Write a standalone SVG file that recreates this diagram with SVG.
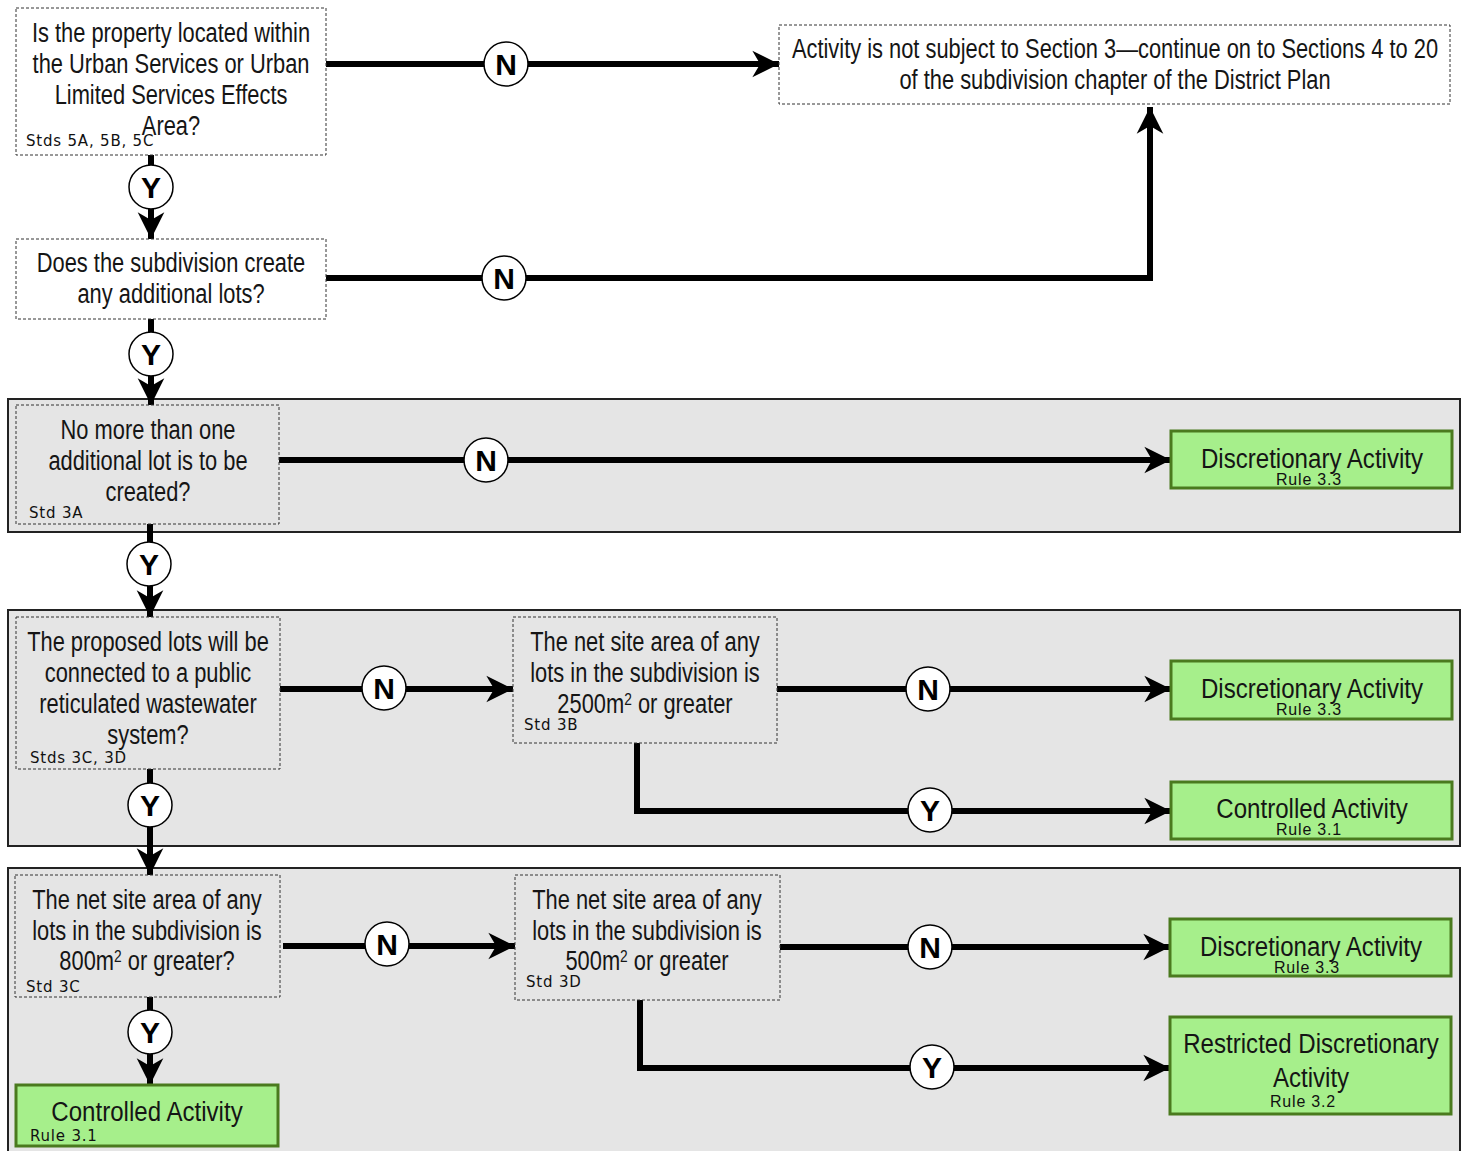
<svg xmlns="http://www.w3.org/2000/svg" width="1469" height="1151" viewBox="0 0 1469 1151">
<style>
.band{fill:#e5e5e5;stroke:#222;stroke-width:2}
.q{fill:#fff;stroke:#333;stroke-width:1;stroke-dasharray:3 2}
.qg{fill:#e5e5e5;stroke:#333;stroke-width:1;stroke-dasharray:3 2}
.res{fill:#a6ef8b;stroke:#4a7a1e;stroke-width:3}
.t{font-family:'Liberation Sans',Arial,sans-serif;font-size:27px;fill:#151515;text-anchor:middle}
.tr{font-family:'Liberation Sans',Arial,sans-serif;font-size:28px;fill:#151515;text-anchor:middle}
.s{font-family:'DejaVu Sans',sans-serif;font-size:15px;letter-spacing:0.8px;fill:#111}
.r{font-family:'Liberation Sans',Arial,sans-serif;font-size:16px;letter-spacing:0.8px;fill:#111;text-anchor:middle}
.c line,.c path{stroke:#000;stroke-width:6;fill:none}
.lab circle{fill:#fff;stroke:#000;stroke-width:1.5}
.lab text{font-family:'Liberation Sans',Arial,sans-serif;font-weight:bold;font-size:30px;fill:#000;text-anchor:middle}
</style>
<defs>
<marker id="ah" markerUnits="userSpaceOnUse" markerWidth="30" markerHeight="30" viewBox="-25 -13 27 26" refX="0" refY="0" orient="auto">
<path d="M0,0 L-24,-12 L-17,0 L-24,12 Z" fill="#000"/>
</marker>
</defs>
<rect width="1469" height="1151" fill="#fff"/>
<g id="bands">
<rect class="band" x="8" y="399" width="1452" height="133"/>
<rect class="band" x="8" y="610" width="1452" height="236"/>
<rect class="band" x="8" y="868" width="1452" height="290"/>
</g>
<g id="connectors" class="c">
<line x1="326" y1="64" x2="779" y2="64" marker-end="url(#ah)"/>
<line x1="151" y1="155" x2="151" y2="239" marker-end="url(#ah)"/>
<path d="M326,278 H1150 V107" marker-end="url(#ah)"/>
<line x1="151" y1="319" x2="151" y2="405" marker-end="url(#ah)"/>
<line x1="279" y1="460" x2="1171" y2="460" marker-end="url(#ah)"/>
<line x1="150" y1="524" x2="150" y2="617" marker-end="url(#ah)"/>
<line x1="280" y1="689" x2="513" y2="689" marker-end="url(#ah)"/>
<line x1="777" y1="689" x2="1171" y2="689" marker-end="url(#ah)"/>
<path d="M637,743 V811 H1171" marker-end="url(#ah)"/>
<line x1="150" y1="769" x2="150" y2="875" marker-end="url(#ah)"/>
<line x1="283" y1="946" x2="515" y2="946" marker-end="url(#ah)"/>
<line x1="780" y1="947" x2="1170" y2="947" marker-end="url(#ah)"/>
<path d="M640,1000 V1068 H1170" marker-end="url(#ah)"/>
<line x1="150" y1="997" x2="150" y2="1085" marker-end="url(#ah)"/>
</g>
<g id="labels" class="lab">
<g><circle cx="506" cy="64" r="22"/><text x="506" y="75">N</text></g>
<g><circle cx="151" cy="187" r="22"/><text x="151" y="198">Y</text></g>
<g><circle cx="504" cy="278" r="22"/><text x="504" y="289">N</text></g>
<g><circle cx="151" cy="354" r="22"/><text x="151" y="365">Y</text></g>
<g><circle cx="486" cy="460" r="22"/><text x="486" y="471">N</text></g>
<g><circle cx="149" cy="564" r="22"/><text x="149" y="575">Y</text></g>
<g><circle cx="384" cy="688" r="22"/><text x="384" y="699">N</text></g>
<g><circle cx="928" cy="689" r="22"/><text x="928" y="700">N</text></g>
<g><circle cx="930" cy="810" r="22"/><text x="930" y="821">Y</text></g>
<g><circle cx="150" cy="805" r="22"/><text x="150" y="816">Y</text></g>
<g><circle cx="387" cy="944" r="22"/><text x="387" y="955">N</text></g>
<g><circle cx="930" cy="947" r="22"/><text x="930" y="958">N</text></g>
<g><circle cx="932" cy="1067" r="22"/><text x="932" y="1078">Y</text></g>
<g><circle cx="150" cy="1032" r="22"/><text x="150" y="1043">Y</text></g>
</g>
<g id="q1">
<rect class="q" x="16" y="8" width="310" height="147"/>
<text class="t" transform="translate(171,42) scale(0.81,1)">Is the property located within</text>
<text class="t" transform="translate(171,73) scale(0.81,1)">the Urban Services or Urban</text>
<text class="t" transform="translate(171,104) scale(0.81,1)">Limited Services Effects</text>
<text class="t" transform="translate(171,135) scale(0.81,1)">Area?</text>
<text class="s" x="26" y="146">Stds 5A, 5B, 5C</text>
</g>
<g id="notsubject">
<rect class="q" x="779" y="25" width="671" height="79"/>
<text class="t" transform="translate(1115,58) scale(0.81,1)">Activity is not subject to Section 3—continue on to Sections 4 to 20</text>
<text class="t" transform="translate(1115,89) scale(0.81,1)">of the subdivision chapter of the District Plan</text>
</g>
<g id="q2">
<rect class="q" x="16" y="239" width="310" height="80"/>
<text class="t" transform="translate(171,272) scale(0.81,1)">Does the subdivision create</text>
<text class="t" transform="translate(171,303) scale(0.81,1)">any additional lots?</text>
</g>
<g id="q3">
<rect class="qg" x="16" y="405" width="263" height="119"/>
<text class="t" transform="translate(148,439) scale(0.81,1)">No more than one</text>
<text class="t" transform="translate(148,470) scale(0.81,1)">additional lot is to be</text>
<text class="t" transform="translate(148,501) scale(0.81,1)">created?</text>
<text class="s" x="29" y="518">Std 3A</text>
</g>
<g id="da1">
<rect class="res" x="1171" y="431" width="281" height="57"/>
<text class="tr" transform="translate(1312,468) scale(0.86,1)">Discretionary Activity</text>
<text class="r" x="1309" y="485">Rule 3.3</text>
</g>
<g id="q4">
<rect class="qg" x="16" y="617" width="264" height="152"/>
<text class="t" transform="translate(148,651) scale(0.81,1)">The proposed lots will be</text>
<text class="t" transform="translate(148,682) scale(0.81,1)">connected to a public</text>
<text class="t" transform="translate(148,713) scale(0.81,1)">reticulated wastewater</text>
<text class="t" transform="translate(148,744) scale(0.81,1)">system?</text>
<text class="s" x="30" y="763">Stds 3C, 3D</text>
</g>
<g id="q5">
<rect class="qg" x="513" y="617" width="264" height="126"/>
<text class="t" transform="translate(645,651) scale(0.81,1)">The net site area of any</text>
<text class="t" transform="translate(645,682) scale(0.81,1)">lots in the subdivision is</text>
<text class="t" transform="translate(645,713) scale(0.81,1)">2500m<tspan font-size="17" dy="-8">2</tspan><tspan dy="8"> or greater</tspan></text>
<text class="s" x="524" y="730">Std 3B</text>
</g>
<g id="da2">
<rect class="res" x="1171" y="661" width="281" height="58"/>
<text class="tr" transform="translate(1312,698) scale(0.86,1)">Discretionary Activity</text>
<text class="r" x="1309" y="715">Rule 3.3</text>
</g>
<g id="ca1">
<rect class="res" x="1171" y="782" width="281" height="57"/>
<text class="tr" transform="translate(1312,818) scale(0.86,1)">Controlled Activity</text>
<text class="r" x="1309" y="835">Rule 3.1</text>
</g>
<g id="q6">
<rect class="qg" x="15" y="875" width="265" height="122"/>
<text class="t" transform="translate(147,909) scale(0.81,1)">The net site area of any</text>
<text class="t" transform="translate(147,940) scale(0.81,1)">lots in the subdivision is</text>
<text class="t" transform="translate(147,970) scale(0.81,1)">800m<tspan font-size="17" dy="-8">2</tspan><tspan dy="8"> or greater?</tspan></text>
<text class="s" x="26" y="992">Std 3C</text>
</g>
<g id="q7">
<rect class="qg" x="515" y="875" width="265" height="125"/>
<text class="t" transform="translate(647,909) scale(0.81,1)">The net site area of any</text>
<text class="t" transform="translate(647,940) scale(0.81,1)">lots in the subdivision is</text>
<text class="t" transform="translate(647,970) scale(0.81,1)">500m<tspan font-size="17" dy="-8">2</tspan><tspan dy="8"> or greater</tspan></text>
<text class="s" x="526" y="987">Std 3D</text>
</g>
<g id="da3">
<rect class="res" x="1170" y="919" width="281" height="57"/>
<text class="tr" transform="translate(1311,956) scale(0.86,1)">Discretionary Activity</text>
<text class="r" x="1307" y="973">Rule 3.3</text>
</g>
<g id="rda">
<rect class="res" x="1170" y="1017" width="281" height="97"/>
<text class="tr" transform="translate(1311,1053) scale(0.86,1)">Restricted Discretionary</text>
<text class="tr" transform="translate(1311,1087) scale(0.86,1)">Activity</text>
<text class="r" x="1303" y="1107">Rule 3.2</text>
</g>
<g id="ca2">
<rect class="res" x="16" y="1085" width="262" height="61"/>
<text class="tr" transform="translate(147,1121) scale(0.86,1)">Controlled Activity</text>
<text class="s" x="30" y="1141">Rule 3.1</text>
</g>
</svg>
